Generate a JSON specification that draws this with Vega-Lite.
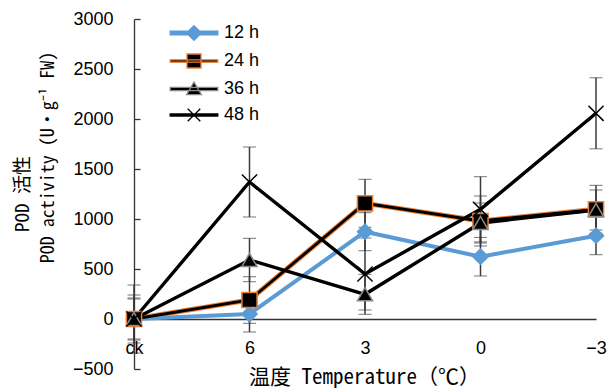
{
  "$schema": "https://vega.github.io/schema/vega-lite/v6.json",
  "width": 462,
  "height": 350,
  "autosize": "none",
  "padding": {"left": 134, "top": 19, "right": 16, "bottom": 19},
  "background": "white",
  "title": {"text": "POD 活性", "orient": "left", "anchor": "middle", "offset": 6, "font": "Noto Sans Mono CJK SC, Noto Sans CJK SC", "fontSize": 19, "fontWeight": "normal", "color": "#000"},
  "config": {
    "view": {"stroke": null},
    "axis": {"grid": false, "domainColor": "#333", "tickColor": "#333", "labelColor": "#000", "titleColor": "#000", "labelFont": "Liberation Sans", "labelFontSize": 18, "domainWidth": 1.3, "tickWidth": 1.3},
    "legend": {"labelFont": "Liberation Sans", "labelFontSize": 18, "labelColor": "#000"}
  },
  "data": {"values": [
    {"series": "12 h", "temp": "ck", "mean": 0, "err": 200},
    {"series": "12 h", "temp": "6", "mean": 50, "err": 180},
    {"series": "12 h", "temp": "3", "mean": 873, "err": 190},
    {"series": "12 h", "temp": "0", "mean": 623, "err": 193},
    {"series": "12 h", "temp": "−3", "mean": 833, "err": 190},
    {"series": "24 h", "temp": "ck", "mean": 0, "err": 240},
    {"series": "24 h", "temp": "6", "mean": 190, "err": 233},
    {"series": "24 h", "temp": "3", "mean": 1157, "err": 240},
    {"series": "24 h", "temp": "0", "mean": 980, "err": 250},
    {"series": "24 h", "temp": "−3", "mean": 1097, "err": 240},
    {"series": "36 h", "temp": "ck", "mean": 0, "err": 210},
    {"series": "36 h", "temp": "6", "mean": 590, "err": 217},
    {"series": "36 h", "temp": "3", "mean": 247, "err": 200},
    {"series": "36 h", "temp": "0", "mean": 960, "err": 200},
    {"series": "36 h", "temp": "−3", "mean": 1090, "err": 200},
    {"series": "48 h", "temp": "ck", "mean": 0, "err": 340},
    {"series": "48 h", "temp": "6", "mean": 1370, "err": 350},
    {"series": "48 h", "temp": "3", "mean": 450, "err": 360},
    {"series": "48 h", "temp": "0", "mean": 1097, "err": 326},
    {"series": "48 h", "temp": "−3", "mean": 2057, "err": 355}
  ]},
  "encoding": {
    "x": {
      "field": "temp", "type": "ordinal", "sort": ["ck", "6", "3", "0", "−3"],
      "scale": {"type": "point", "domain": ["ck", "6", "3", "0", "−3"], "padding": 0},
      "axis": {
        "orient": "bottom", "offset": -50, "ticks": false, "labelPadding": 20, "labelAngle": 0,
        "title": "温度 Temperature（℃）", "titleFont": "Noto Sans Mono CJK SC, Noto Sans CJK SC", "titleFontSize": 21, "titleFontWeight": "normal",
        "titleX": 230, "titleY": 58, "titleAlign": "center", "titleBaseline": "middle"
      }
    },
    "y": {
      "field": "mean", "type": "quantitative",
      "scale": {"domain": [-500, 3000], "nice": false, "zero": false},
      "axis": {
        "values": [-500, 0, 500, 1000, 1500, 2000, 2500, 3000], "format": "d",
        "tickSize": -6, "labelPadding": 27,
        "title": "POD activity (U·g⁻¹ FW)",
        "titleFont": "Noto Sans Mono CJK SC, Noto Sans CJK SC", "titleFontSize": 18, "titleFontWeight": "normal",
        "titleAngle": -90, "titleAlign": "center", "titleBaseline": "middle",
        "titleX": -86, "titleY": 138
      }
    }
  },
  "resolve": {"scale": {"shape": "independent", "fill": "independent", "stroke": "independent"}},
  "layer": [
    {
      "mark": {"type": "errorbar", "ticks": {"size": 13, "color": "#3a3a3a", "strokeWidth": 1.5}, "rule": {"color": "#3a3a3a", "strokeWidth": 1.5}},
      "encoding": {
        "y": {"field": "mean", "type": "quantitative", "title": null},
        "yError": {"field": "err"},
        "detail": {"field": "series"}
      }
    },
    {
      "transform": [{"filter": "datum.series === '24 h'"}],
      "mark": {"type": "line", "color": "#ED7D31", "strokeWidth": 5},
      "encoding": {}
    },
    {
      "transform": [{"filter": "datum.series === '12 h'"}],
      "mark": {"type": "line", "color": "#5B9BD5", "strokeWidth": 4},
      "encoding": {}
    },
    {
      "transform": [{"filter": "datum.series === '24 h'"}],
      "mark": {"type": "line", "color": "#000000", "strokeWidth": 2.8},
      "encoding": {}
    },
    {
      "transform": [{"filter": "datum.series === '36 h' || datum.series === '48 h'"}],
      "mark": {"type": "line", "color": "#000000", "strokeWidth": 3.4},
      "encoding": {"detail": {"field": "series"}}
    },
    {
      "mark": {"type": "point", "filled": true, "size": 230, "strokeWidth": 1.5, "opacity": 1},
      "encoding": {
        "shape": {
          "field": "series", "type": "nominal",
          "scale": {"domain": ["12 h", "24 h", "36 h", "48 h"], "range": ["diamond", "square", "triangle-up", "M-1,-1L1,1M-1,1L1,-1"]},
          "legend": null
        },
        "fill": {
          "field": "series", "type": "nominal",
          "scale": {"domain": ["12 h", "24 h", "36 h", "48 h"], "range": ["#5B9BD5", "#000000", "#000000", "#000000"]},
          "legend": null
        },
        "stroke": {
          "field": "series", "type": "nominal",
          "scale": {"domain": ["12 h", "24 h", "36 h", "48 h"], "range": ["#5B9BD5", "#ED7D31", "#8a8a8a", "#000000"]},
          "legend": null
        }
      }
    },
    {
      "transform": [{"filter": "false"}],
      "mark": {"type": "point", "filled": true, "size": 196, "strokeWidth": 1.3, "opacity": 1},
      "encoding": {
        "shape": {
          "field": "series", "type": "nominal",
          "scale": {"domain": ["12 h", "24 h", "36 h", "48 h"], "range": [
            "M-3.4,-0.25H3.4V0.25H-3.4Z M0,-1.05L1.05,0L0,1.05L-1.05,0Z",
            "M-3.4,-0.17H3.4V0.17H-3.4Z M-1,-1H1V1H-1Z",
            "M-3.4,-0.22H3.4V0.22H-3.4Z M0,-1L1.05,0.8L-1.05,0.8Z",
            "M-3.4,-0.15H3.4V0.15H-3.4Z M-0.9,-0.9L0.9,0.9M-0.9,0.9L0.9,-0.9"
          ]},
          "legend": {"orient": "none", "legendX": 51, "legendY": 5, "title": null, "symbolSize": 196, "symbolStrokeWidth": 1.3, "labelOffset": 21, "rowPadding": 8, "padding": 0}
        },
        "fill": {
          "field": "series", "type": "nominal",
          "scale": {"domain": ["12 h", "24 h", "36 h", "48 h"], "range": ["#5B9BD5", "#000000", "#000000", "#000000"]},
          "legend": {"orient": "none", "legendX": 51, "legendY": 5, "title": null, "symbolSize": 196, "symbolStrokeWidth": 1.3, "labelOffset": 21, "rowPadding": 8, "padding": 0}
        },
        "stroke": {
          "field": "series", "type": "nominal",
          "scale": {"domain": ["12 h", "24 h", "36 h", "48 h"], "range": ["#5B9BD5", "#ED7D31", "#8a8a8a", "#000000"]},
          "legend": {"orient": "none", "legendX": 51, "legendY": 5, "title": null, "symbolSize": 196, "symbolStrokeWidth": 1.3, "labelOffset": 21, "rowPadding": 8, "padding": 0}
        }
      }
    }
  ]
}
